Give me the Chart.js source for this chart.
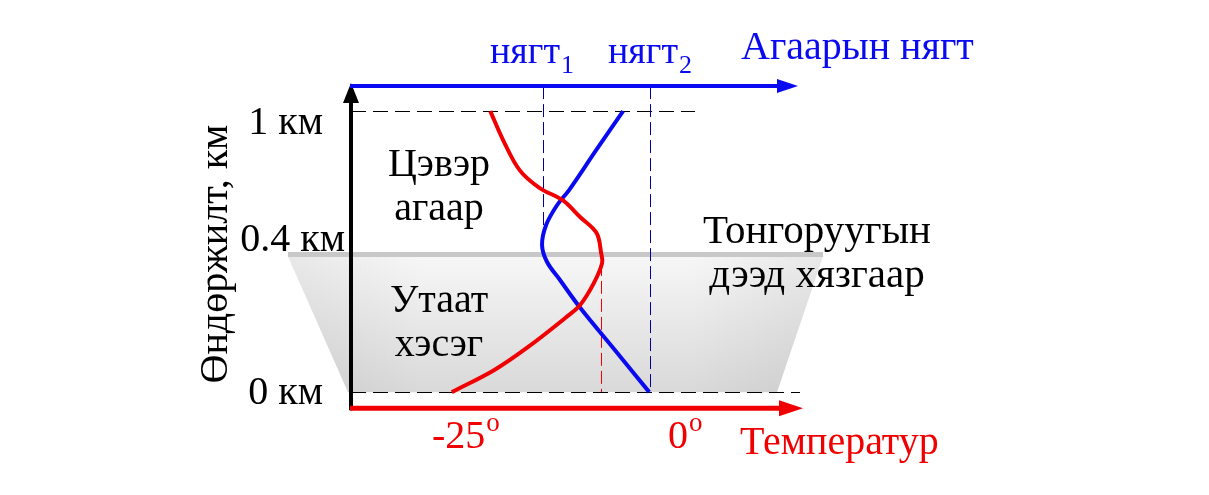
<!DOCTYPE html>
<html lang="mn">
<head>
<meta charset="UTF-8">
<title>Температурын урвуу давхарга</title>
<script src="https://cdn.jsdelivr.net/npm/chart.js@4"></script>
<style>
  html, body { margin: 0; padding: 0; background: #fff; }
  .wrap { width: 1209px; height: 495px; position: relative; }
</style>
</head>
<body>
<div class="wrap"><canvas id="diagram"></canvas></div>
<script>
// температурын профиль: өндөр (км, схемийн) ба температур (°C)
const tempHeights = [0, 0.078, 0.16, 0.267, 0.31, 0.388, 0.459, 0.495, 0.566, 0.623, 0.683, 0.726, 0.79, 0.897, 1.0];
const tempValues  = [-25, -20.4, -16.7, -12.5, -11.0, -9.5, -8.6, -8.7, -9.2, -11.0, -12.9, -15.4, -17.6, -19.4, -20.8];

// агаарын нягтын профиль: нягт1 = 1, нягт2 = 2
const densHeights = [0, 0.149, 0.302, 0.399, 0.463, 0.523, 0.594, 0.665, 0.719, 0.861, 1.0];
const densValues  = [1.99, 1.67, 1.34, 1.155, 1.034, 0.987, 1.024, 1.127, 1.24, 1.493, 1.745];

// тэнхлэгийн тэмдэглэгээ
const heightTicks  = [0, 0.49, 1];
const heightLabels = ['0 км', '0.4 км', '1 км'];
const tempTicks    = [-25, 0];
const tempLabels   = ['-25', '0'];
const densTicks    = [1, 2];
const densLabels   = ['1', '2'];

const inversionTop = 0.49;   // тонгоруугын дээд хязгаар
const tempPeak = -8.7, tempPeakHeight = 0.46;
const densLowHeight = 0.5;

const SERIF = "'Liberation Serif', 'DejaVu Serif', serif";
const BLUE = '#0a0af0', RED = '#f00000';

function arrowHead(ctx, x, y, dir, len, half, color) {
  ctx.fillStyle = color;
  ctx.beginPath();
  if (dir === 'up') {
    ctx.moveTo(x, y); ctx.lineTo(x - half, y + len); ctx.lineTo(x + half, y + len);
  } else {
    ctx.moveTo(x, y); ctx.lineTo(x - len, y - half); ctx.lineTo(x - len, y + half);
  }
  ctx.closePath();
  ctx.fill();
}

function dashed(ctx, x1, y1, x2, y2, color, dash) {
  ctx.save();
  ctx.strokeStyle = color;
  ctx.lineWidth = 1;
  ctx.setLineDash(dash);
  ctx.beginPath();
  ctx.moveTo(x1, y1); ctx.lineTo(x2, y2);
  ctx.stroke();
  ctx.restore();
}

// текст + доод/дээд индекс
function textWithIndex(ctx, str, idx, x, y, size, color, raise) {
  ctx.fillStyle = color;
  ctx.textAlign = 'left';
  ctx.textBaseline = 'alphabetic';
  ctx.font = size + 'px ' + SERIF;
  ctx.fillText(str, x, y);
  const w = ctx.measureText(str).width;
  ctx.font = Math.round(size * 0.68) + 'px ' + SERIF;
  ctx.fillText(idx, x + w + 1, y + raise);
}

const snap = v => Math.round(v) + 0.5;

const diagramPlugin = {
  id: 'diagram',
  beforeDatasetsDraw(chart) {
    const { ctx, scales: { x, x2, y } } = chart;
    const yInv = y.getPixelForValue(inversionTop);
    const y0 = y.getPixelForValue(0);
    const y1 = y.getPixelForValue(1);
    const left = x.left;

    ctx.save();
    // утаат давхарга
    ctx.beginPath();
    ctx.moveTo(288, yInv + 2); ctx.lineTo(823, yInv + 2);
    ctx.lineTo(777, y0); ctx.lineTo(348, y0);
    ctx.closePath();
    const gv = ctx.createLinearGradient(0, yInv, 0, y0);
    gv.addColorStop(0, '#f7f7f7');
    gv.addColorStop(1, '#d9d9d9');
    ctx.fillStyle = gv;
    ctx.fill();
    const gh = ctx.createLinearGradient(288, 0, 823, 0);
    gh.addColorStop(0, 'rgba(0,0,0,0.06)');
    gh.addColorStop(0.25, 'rgba(0,0,0,0)');
    gh.addColorStop(0.75, 'rgba(0,0,0,0)');
    gh.addColorStop(1, 'rgba(0,0,0,0.06)');
    ctx.fillStyle = gh;
    ctx.fill();

    // дээд хязгаарын шугам
    ctx.strokeStyle = '#c8c8c8';
    ctx.lineWidth = 5;
    ctx.beginPath();
    ctx.moveTo(288, yInv); ctx.lineTo(823, yInv);
    ctx.stroke();

    // тасархай шугамууд
    const yBlue = y.getPixelForValue(1.089);
    dashed(ctx, left, snap(y1), 695, snap(y1), '#000', [15, 7]);
    dashed(ctx, left, snap(y0), 800, snap(y0), '#000', [15, 7]);
    const xd1 = snap(x2.getPixelForValue(densTicks[0]));
    const xd2 = snap(x2.getPixelForValue(densTicks[1]));
    const xt = snap(x.getPixelForValue(tempPeak));
    dashed(ctx, xd1, yBlue, xd1, y.getPixelForValue(densLowHeight), '#0000a0', [13, 5]);
    dashed(ctx, xd2, yBlue, xd2, y0, '#0000a0', [13, 5]);
    dashed(ctx, xt, y.getPixelForValue(tempPeakHeight), xt, y0, RED, [13, 5]);
    ctx.restore();
  },
  afterDraw(chart) {
    const { ctx, scales: { x, x2, y } } = chart;
    const left = x.left;
    const yBlue = y.getPixelForValue(1.089);
    const yRed = y.getPixelForValue(-0.057);

    ctx.save();
    // өндрийн тэнхлэг
    ctx.strokeStyle = '#000';
    ctx.lineWidth = 4;
    ctx.beginPath();
    ctx.moveTo(left, yRed + 2); ctx.lineTo(left, 100);
    ctx.stroke();
    arrowHead(ctx, left, 83, 'up', 20, 8, '#000');

    // нягтын тэнхлэг
    ctx.strokeStyle = BLUE;
    ctx.beginPath();
    ctx.moveTo(left - 1, yBlue); ctx.lineTo(780, yBlue);
    ctx.stroke();
    arrowHead(ctx, 798, yBlue, 'right', 21, 7, BLUE);

    // температурын тэнхлэг
    ctx.strokeStyle = RED;
    ctx.lineWidth = 5;
    ctx.beginPath();
    ctx.moveTo(left - 1, yRed); ctx.lineTo(780, yRed);
    ctx.stroke();
    arrowHead(ctx, 803, yRed, 'right', 24, 8, RED);

    // өндрийн шошго
    ctx.fillStyle = '#000';
    ctx.font = '40px ' + SERIF;
    ctx.textAlign = 'right';
    ctx.textBaseline = 'alphabetic';
    const tickDy = [12, -3, 23];
    const tickRight = [323, 345, 323];
    heightTicks.forEach((v, i) => {
      ctx.fillText(heightLabels[i], tickRight[i], y.getPixelForValue(v) + tickDy[i]);
    });

    // Өндөржилт
    ctx.save();
    ctx.translate(227, 254);
    ctx.rotate(-Math.PI / 2);
    ctx.textAlign = 'center';
    ctx.fillText('Өндөржилт, км', 0, 0);
    ctx.restore();

    // бүсийн нэрс
    ctx.textAlign = 'center';
    ctx.fillText('Цэвэр', 439, 176);
    ctx.fillText('агаар', 439, 220);
    ctx.fillText('Утаат', 439, 312);
    ctx.fillText('хэсэг', 439, 356);
    ctx.font = '41px ' + SERIF;
    ctx.fillText('Тонгоруугын', 817, 243);
    ctx.fillText('дээд хязгаар', 817, 287);

    // нягт1, нягт2
    const densLeft = [490, 608];
    densTicks.forEach((v, i) => {
      textWithIndex(ctx, 'нягт', densLabels[i], densLeft[i], 63, 38, BLUE, 10);
    });
    ctx.textAlign = 'left';
    ctx.fillStyle = BLUE;
    ctx.font = '40px ' + SERIF;
    ctx.fillText('Агаарын нягт', 741, 59);

    // температур
    const tempLeft = [432, 668];
    tempTicks.forEach((v, i) => {
      textWithIndex(ctx, tempLabels[i], 'o', tempLeft[i], 448, 40, RED, -17);
    });
    ctx.textAlign = 'left';
    ctx.fillStyle = RED;
    ctx.font = '40px ' + SERIF;
    ctx.fillText('Температур', 740, 454);
    ctx.restore();
  }
};

const toPoints = (xs, ys) => xs.map((v, i) => ({ x: v, y: ys[i] }));

new Chart(document.getElementById('diagram'), {
  type: 'scatter',
  data: {
    datasets: [
      {
        label: 'Температур',
        data: toPoints(tempValues, tempHeights),
        xAxisID: 'x',
        showLine: true,
        borderColor: RED,
        borderWidth: 4,
        pointRadius: 0,
        tension: 0.35,
        clip: false
      },
      {
        label: 'Агаарын нягт',
        data: toPoints(densValues, densHeights),
        xAxisID: 'x2',
        showLine: true,
        borderColor: BLUE,
        borderWidth: 4,
        pointRadius: 0,
        tension: 0.35,
        clip: false
      }
    ]
  },
  options: {
    responsive: true,
    maintainAspectRatio: false,
    animation: false,
    layout: { padding: { left: 351, right: 409, top: 83, bottom: 86 } },
    plugins: { legend: { display: false }, tooltip: { enabled: false } },
    scales: {
      x:  { type: 'linear', min: -36, max: 13, display: false },
      x2: { type: 'linear', min: -0.8, max: 3.4, display: false },
      y:  { type: 'linear', min: -0.06, max: 1.1, display: false }
    }
  },
  plugins: [diagramPlugin]
});
</script>
</body>
</html>
